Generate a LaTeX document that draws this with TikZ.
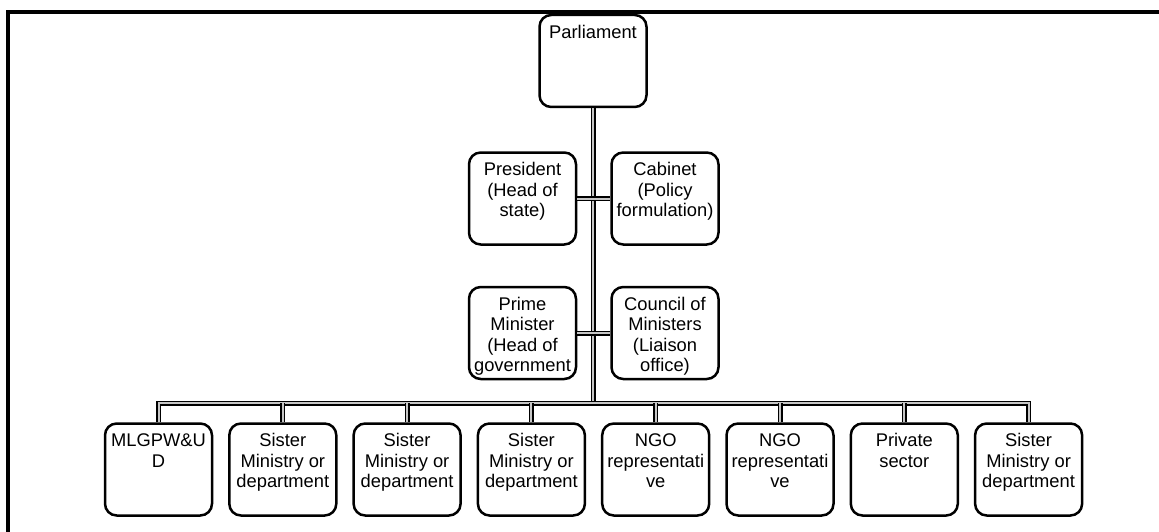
\documentclass[tikz,border=0pt]{standalone}
\usepackage{fontspec}
\setmainfont{Liberation Sans}
\newlength\cellw \setlength\cellw{64.2pt}
\newlength\cellh \setlength\cellh{55.2pt}
% top-aligned text inside a fixed-size box
\newcommand\celltext[1]{\parbox[c][\cellh][t]{\cellw}{\centering\vspace*{5.5pt}\strut#1\par}}
\tikzset{
  org/.style={draw, line width=1.5pt, rounded corners=7pt, inner sep=0pt,
              font=\fontsize{11}{12.2}\selectfont},
  link/.style={draw=black, line width=0.9pt, double=gray!45, double distance=1.2pt},
  frameline/.style={line width=2.4pt}
}
\begin{document}
\begin{tikzpicture}[x=0.6pt,y=-0.6pt]
\useasboundingbox (0,0) rectangle (1159,532);
% page frame (top and left rules)
\draw[frameline] (8,532) -- (8,12) -- (1159,12);

% upper tiers
\node[org] (parl) at (593,61) {\celltext{Parliament}};
\node[org] (pres) at (522.5,198.5) {\celltext{President\\(Head of\\state)}};
\node[org] (cab)  at (665,198.5) {\celltext{Cabinet\\(Policy\\formulation)}};
\node[org] (pm)   at (522.5,333) {\celltext{Prime\\Minister\\(Head of\\government}};
\node[org] (com)  at (665,333) {\celltext{Council of\\Ministers\\(Liaison\\office)}};

% bottom row
\node[org] (b1) at (158.5,469.5) {\celltext{MLGPW\&U\\D}};
\node[org] (b2) at (282.8,469.5) {\celltext{Sister\\Ministry or\\department}};
\node[org] (b3) at (407.1,469.5) {\celltext{Sister\\Ministry or\\department}};
\node[org] (b4) at (531.4,469.5) {\celltext{Sister\\Ministry or\\department}};
\node[org] (b5) at (655.7,469.5) {\celltext{NGO\\representati\\ve}};
\node[org] (b6) at (780,469.5) {\celltext{NGO\\representati\\ve}};
\node[org] (b7) at (904.3,469.5) {\celltext{Private\\sector}};
\node[org] (b8) at (1028.6,469.5) {\celltext{Sister\\Ministry or\\department}};

\coordinate (bus) at (593,403);

% connectors
\draw[link] (parl.south) -- (bus);
\draw[link] (pres.east) -- (cab.west);
\draw[link] (pm.east) -- (com.west);
\draw[link] (b1.north) |- (bus) -| (b8.north);
\foreach \b in {b2,b3,b4,b5,b6,b7}
  \draw[link] (\b.north) -- (\b.north |- bus);
\end{tikzpicture}
\end{document}
